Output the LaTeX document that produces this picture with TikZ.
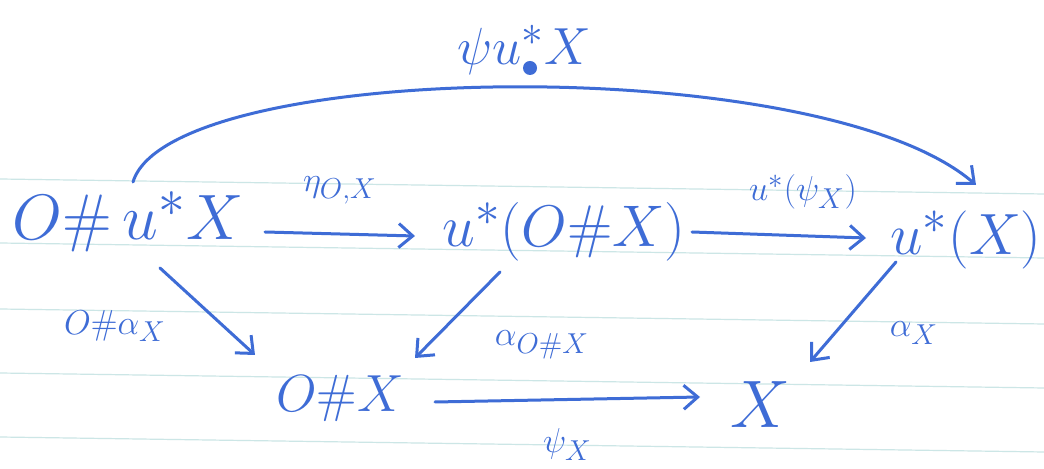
\documentclass[tikz,border=0pt]{standalone}
\usepackage{amsmath}
\usepackage{graphicx}
\usetikzlibrary{arrows.meta,calc}
\definecolor{ink}{RGB}{62,108,214}
\definecolor{paperrule}{RGB}{204,230,230}
\newcommand{\inkmath}[2]{\scalebox{#1}{$#2$}}
\begin{document}
\begin{tikzpicture}[x=0.5pt,y=-0.5pt,
  obj/.style={text=ink, font=\Huge, inner sep=0pt},
  lbl/.style={text=ink, font=\fontsize{19}{21}\selectfont, inner sep=0pt},
  arr/.style={draw=ink, line width=1.5pt, line cap=round,
    -{Straight Barb[length=7pt,width=12pt,line width=1.5pt]}},
  ruled/.style={draw=paperrule, line width=0.6pt}]
\useasboundingbox[fill=white] (0,0) rectangle (1044,469);
\foreach \y in {179,243,309,373,437} \draw[ruled] (0,\y) -- (1044,\y+15);

\node[obj] (A) at (128,222) {\inkmath{1.29}{O\#\,u^{*}X}};
\node[obj] (B) at (564,232) {\inkmath{1.18}{u^{*}(O\#X)}};
\node[obj] (C) at (966,240) {\inkmath{1.17}{u^{*}(X)}};
\node[obj] (D) at (340,398) {\inkmath{1.05}{O\#X}};
\node[obj] (E) at (760,405) {\inkmath{1.35}{X}};

\node[obj] (T) at (524,50) {\inkmath{1.05}{\psi u^{*}X}};
\fill[ink] (530,68) ellipse (7 and 7);

\draw[arr] ($(A)+(137,10)$) -- node[lbl, above=14pt] (l1) {$\eta_{O,X}$} ($(B)+(-149,4)$);
\draw[arr] ($(B)+(128,0)$) -- node[lbl, above=12pt, xshift=12pt] (l2) {$u^{*}(\psi_X)$} ($(C)+(-100,-2)$);
\draw[arr] ($(A)+(5,-40)$) .. controls (170,60) and (820,50) .. ($(C)+(10,-55)$);
\draw[arr] ($(A)+(32,46)$) -- ($(D)+(-85,-43)$);
\node[lbl] (l3) at (115,326) {$O\#\alpha_X$};
\draw[arr] ($(B)+(-64,40)$) -- ($(D)+(75,-40)$);
\node[lbl] (l4) at (542,345) {$\alpha_{O\#X}$};
\draw[arr] ($(C)+(-70,22)$) -- ($(E)+(50,-43)$);
\node[lbl] (l5) at (914,333) {$\alpha_X$};
\draw[arr] ($(D)+(95,4)$) -- node[lbl, below=14pt] (l6) {$\psi_X$} ($(E)+(-60,-8)$);
\end{tikzpicture}
\end{document}
